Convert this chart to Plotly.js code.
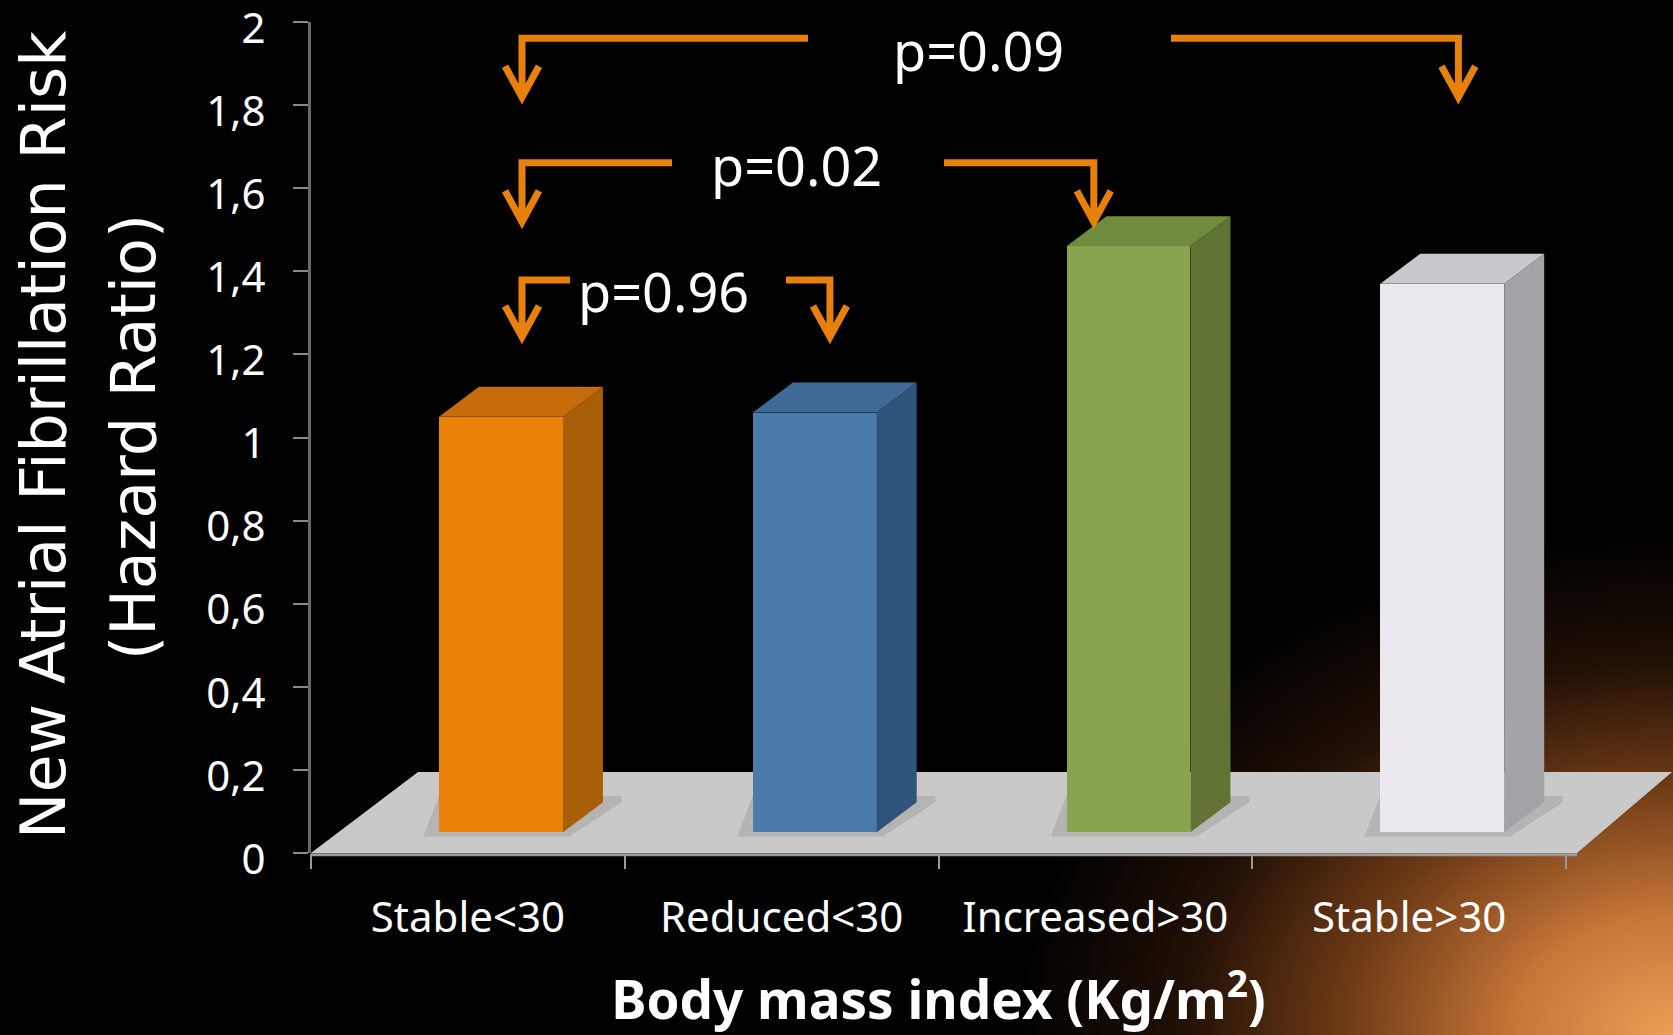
<!DOCTYPE html>
<html>
<head>
<meta charset="utf-8">
<script src="https://cdn.plot.ly/plotly-3.0.1.min.js"></script>
<style>
  html, body { margin: 0; padding: 0; background: #000; }
  #wrap {
    width: 1673px; height: 1035px; overflow: hidden;
    background:
      radial-gradient(ellipse 660px 500px at 100% 100%,
        rgba(236,158,84,1) 0%, rgba(205,122,58,0.97) 24%, rgba(125,66,24,0.88) 50%,
        rgba(45,22,8,0.7) 75%, rgba(0,0,0,0) 100%),
      #000;
  }
  #chart { width: 1673px; height: 1035px; }
</style>
</head>
<body>
<div id="wrap"><div id="chart"></div></div>
<script>
// ---------------- data ----------------
const categories = ['Stable<30', 'Reduced<30', 'Increased>30', 'Stable>30'];
const hazardRatio = [1.00, 1.01, 1.41, 1.32];
const yTickValues = [0, 0.2, 0.4, 0.6, 0.8, 1, 1.2, 1.4, 1.6, 1.8, 2];
const yTickLabels = ['0', '0,2', '0,4', '0,6', '0,8', '1', '1,2', '1,4', '1,6', '1,8', '2'];
const pValueLabels = ['p=0.96', 'p=0.02', 'p=0.09'];
const comparedFrom = [0, 0, 0];
const comparedTo = [1, 2, 3];
const yTitleLines = ['New Atrial Fibrillation Risk', '(Hazard Ratio)'];
const xTitle = '<b>Body mass index (Kg/m<sup>2</sup>)</b>';

// ---------------- styles ----------------
const frontColors = ['#EA8209', '#4A7BAA', '#8AA34E', '#EBE8F0'];
const sideColors  = ['#A85E06', '#2F5479', '#617434', '#A4A3A8'];
const topColors   = ['#C66C0A', '#3D6A96', '#718B3E', '#C9C8CD'];
const ARROW_COLOR = '#E8800C';
const BAR_OFFSET = -0.092, BAR_WIDTH = 0.395, BAR_BASE = 0.05;
const DEPTH_X = 0.1275, DEPTH_Y = 0.0722;
const X_RANGE = [-0.5, 3.5], Y_RANGE = [0, 2];

// bracket placement (layout only)
const bracketLayout = {
  level:      [1.379, 1.661, 1.961],
  tip:        [1.242, 1.519, 1.819],
  leftStem:   [0.1725, 0.1725, 0.1725],
  rightStem:  [0.154, -0.005, 0.157],
  leftEnd:    [0.3255, 0.6506, 1.084],
  rightStart: [1.014, 1.5175, 2.241],
  textX:      [0.622, 1.046, 1.626],
  textY:      [1.352, 1.656, 1.932]
};
const HEAD_HW = 0.054, HEAD_HL = 0.0746;

const esc = s => s.replace(/</g, '&lt;').replace(/>/g, '&gt;');
const xIdx = categories.map((c, i) => i);

// front faces: library bars
const barTrace = {
  type: 'bar',
  x: xIdx,
  y: hazardRatio,
  base: BAR_BASE,
  offset: BAR_OFFSET,
  width: BAR_WIDTH,
  marker: { color: frontColors, line: { width: 0 } },
  hoverinfo: 'skip',
  showlegend: false
};

const shapes = [];
// floor (extends past the axis range, so expressed in axis-domain units)
const dxd = v => (v - X_RANGE[0]) / (X_RANGE[1] - X_RANGE[0]);
const dyd = v => (v - Y_RANGE[0]) / (Y_RANGE[1] - Y_RANGE[0]);
const floorPts = [[-0.5, 0], [3.535, 0], [3.838, 0.195], [-0.159, 0.195]];
shapes.push({
  type: 'path', xref: 'x domain', yref: 'y domain', layer: 'below',
  path: 'M' + floorPts.map(p => dxd(p[0]) + ',' + dyd(p[1])).join('L') + 'Z',
  fillcolor: '#C9C9C9', line: { width: 0 }
});
shapes.push({
  type: 'line', xref: 'x domain', yref: 'y domain', layer: 'below',
  x0: dxd(-0.5), x1: dxd(3.535), y0: dyd(-0.004), y1: dyd(-0.004),
  line: { color: '#9A9A9A', width: 3 }
});

// shadows and 3D faces
hazardRatio.forEach((v, i) => {
  const xl = i + BAR_OFFSET, xr = xl + BAR_WIDTH;
  const y0 = BAR_BASE, y1 = BAR_BASE + v;
  shapes.push({
    type: 'path', xref: 'x', yref: 'y', layer: 'below',
    path: `M${xl - 0.05},${y0 - 0.01}L${xr + 0.02},${y0 - 0.01}L${xr + DEPTH_X + 0.06},${y0 + DEPTH_Y}L${xr + DEPTH_X + 0.06},${y0 + DEPTH_Y + 0.015}L${xl},${y0 + DEPTH_Y + 0.015}Z`,
    fillcolor: 'rgba(90,90,90,0.18)', line: { width: 0 }
  });
  shapes.push({
    type: 'path', xref: 'x', yref: 'y', layer: 'above',
    path: `M${xr},${y0}L${xr + DEPTH_X},${y0 + DEPTH_Y}L${xr + DEPTH_X},${y1 + DEPTH_Y}L${xr},${y1}Z`,
    fillcolor: sideColors[i], line: { width: 0 }
  });
  shapes.push({
    type: 'path', xref: 'x', yref: 'y', layer: 'above',
    path: `M${xl},${y1}L${xl + DEPTH_X},${y1 + DEPTH_Y}L${xr + DEPTH_X},${y1 + DEPTH_Y}L${xr},${y1}Z`,
    fillcolor: topColors[i], line: { width: 0 }
  });
});

// comparison brackets
const annotations = [];
pValueLabels.forEach((label, k) => {
  const lv = bracketLayout.level[k], tp = bracketLayout.tip[k];
  const sL = comparedFrom[k] + bracketLayout.leftStem[k];
  const sR = comparedTo[k] + bracketLayout.rightStem[k];
  const left = `M${bracketLayout.leftEnd[k]},${lv}L${sL},${lv}L${sL},${tp + 0.012}` +
               `M${sL - HEAD_HW},${tp + HEAD_HL}L${sL},${tp}L${sL + HEAD_HW},${tp + HEAD_HL}`;
  const right = `M${bracketLayout.rightStart[k]},${lv}L${sR},${lv}L${sR},${tp + 0.012}` +
               `M${sR - HEAD_HW},${tp + HEAD_HL}L${sR},${tp}L${sR + HEAD_HW},${tp + HEAD_HL}`;
  [left, right].forEach(p => shapes.push({
    type: 'path', xref: 'x', yref: 'y', layer: 'above', path: p,
    line: { color: ARROW_COLOR, width: 7 }, fillcolor: 'rgba(0,0,0,0)'
  }));
  annotations.push({
    xref: 'x', yref: 'y', x: bracketLayout.textX[k], y: bracketLayout.textY[k],
    text: label, showarrow: false, xanchor: 'center', yanchor: 'middle',
    font: { family: 'Noto Sans', size: 54, color: '#FFFFFF' }
  });
});

// y-axis title, two lines
const yTitlePos = [[43, 435], [134, 437]];
yTitleLines.forEach((t, j) => {
  annotations.push({
    xref: 'paper', yref: 'paper',
    x: (yTitlePos[j][0] - 311) / (1673 - 311 - 107),
    y: (1035 - 182 - yTitlePos[j][1]) / (1035 - 22 - 182),
    text: t, textangle: -90, showarrow: false, xanchor: 'center', yanchor: 'middle',
    font: { family: 'DejaVu Sans', size: 62, color: '#FFFFFF' }
  });
});

const layout = {
  width: 1673, height: 1035,
  margin: { l: 311, r: 107, t: 22, b: 182, pad: 0 },
  paper_bgcolor: 'rgba(0,0,0,0)', plot_bgcolor: 'rgba(0,0,0,0)',
  showlegend: false,
  font: { family: 'Noto Sans', color: '#FFFFFF' },
  bargap: 0,
  xaxis: {
    range: X_RANGE, tickmode: 'array', tickvals: xIdx, ticktext: categories.map(esc),
    ticks: '', showline: false, showgrid: false, zeroline: false,
    tickfont: { family: 'Noto Sans', size: 42, color: '#FFFFFF' },
    ticklabelstandoff: 36, ticklabeloverflow: 'allow',
    minor: { tickmode: 'array', tickvals: [-0.5, 0.5, 1.5, 2.5, 3.5], ticks: 'outside',
             ticklen: 15, tickwidth: 2, tickcolor: '#9A9A9A', showgrid: false },
    title: { text: xTitle, standoff: 42,
             font: { family: 'Noto Sans', size: 53, color: '#FFFFFF' } },
    automargin: false, fixedrange: true
  },
  yaxis: {
    range: Y_RANGE, tickmode: 'array', tickvals: yTickValues, ticktext: yTickLabels,
    ticks: 'outside', ticklen: 15, tickwidth: 2, tickcolor: '#8A8A8A',
    showline: true, linecolor: '#6A6A6A', linewidth: 3,
    showgrid: false, zeroline: false,
    tickfont: { family: 'Noto Sans', size: 42, color: '#FFFFFF' },
    ticklabelstandoff: 19, ticklabelshift: 6, ticklabeloverflow: 'allow',
    automargin: false, fixedrange: true
  },
  shapes: shapes,
  annotations: annotations
};

Plotly.newPlot('chart', [barTrace], layout, { displayModeBar: false, staticPlot: true });
</script>
</body>
</html>
